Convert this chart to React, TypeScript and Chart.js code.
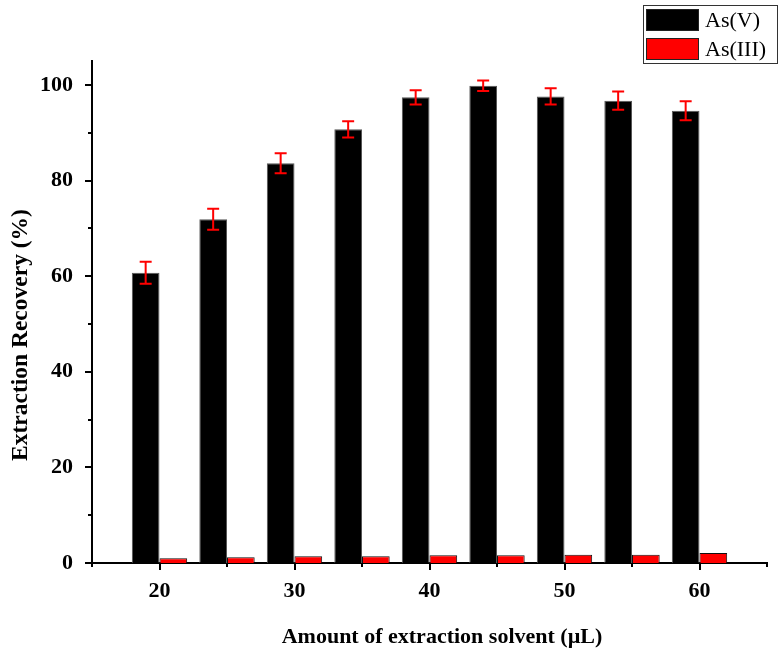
import React, { useEffect, useRef } from "react";
import { Chart, registerables } from "chart.js";

Chart.register(...registerables);

const solventAmounts = [20, 25, 30, 35, 40, 45, 50, 55, 60];
const asVRecovery = [60.7, 71.9, 83.6, 90.7, 97.4, 99.8, 97.6, 96.7, 94.6];
const asVError = [2.3, 2.2, 2.1, 1.7, 1.5, 1.1, 1.7, 1.9, 2.0];
const asIIIRecovery = [1.0, 1.2, 1.4, 1.4, 1.6, 1.6, 1.7, 1.7, 2.1];
const seriesLabels = ["As(V)", "As(III)"];
const xTickValues = [15, 20, 25, 30, 35, 40, 45, 50, 55, 60, 65];
const yTickValues = [0, 10, 20, 30, 40, 50, 60, 70, 80, 90, 100];
const xTitle = "Amount of extraction solvent (\u00b5L)";
const yTitle = "Extraction Recovery (%)";

const FONT = "'Liberation Serif', 'Times New Roman', serif";

const errorBarPlugin = {
  id: "errorBars",
  afterDatasetsDraw(chart: any) {
    const meta = chart.getDatasetMeta(0);
    const yScale = chart.scales.y;
    const ctx = chart.ctx;
    ctx.save();
    ctx.strokeStyle = "#ff0000";
    ctx.lineWidth = 2;
    meta.data.forEach((bar: any, i: number) => {
      const v = asVRecovery[i];
      const e = asVError[i];
      const yTop = yScale.getPixelForValue(v + e);
      const yBot = yScale.getPixelForValue(v - e);
      const x = bar.x;
      const cap = 6;
      ctx.beginPath();
      ctx.moveTo(x, yTop);
      ctx.lineTo(x, yBot);
      ctx.moveTo(x - cap, yTop);
      ctx.lineTo(x + cap, yTop);
      ctx.moveTo(x - cap, yBot);
      ctx.lineTo(x + cap, yBot);
      ctx.stroke();
    });
    ctx.restore();
  },
};

const ticksPlugin = {
  id: "customTicks",
  afterDraw(chart: any) {
    const ctx = chart.ctx;
    const { x, y } = chart.scales;
    const area = chart.chartArea;
    ctx.save();
    ctx.strokeStyle = "#000";
    ctx.lineWidth = 2;
    x.ticks.forEach((t: any) => {
      const px = Math.round(x.getPixelForValue(t.value));
      const len = t.value % 10 === 0 ? 7 : 4;
      ctx.beginPath();
      ctx.moveTo(px, area.bottom);
      ctx.lineTo(px, area.bottom + len);
      ctx.stroke();
    });
    y.ticks.forEach((t: any) => {
      const py = Math.round(y.getPixelForValue(t.value));
      const len = t.value % 20 === 0 ? 7 : 4;
      ctx.beginPath();
      ctx.moveTo(area.left, py);
      ctx.lineTo(area.left - len, py);
      ctx.stroke();
    });
    ctx.restore();
  },
};

const titlesPlugin = {
  id: "axisTitles",
  afterDraw(chart: any) {
    const ctx = chart.ctx;
    ctx.save();
    ctx.fillStyle = "#000";
    ctx.textAlign = "center";
    ctx.textBaseline = "alphabetic";
    ctx.font = `bold 22px ${FONT}`;
    ctx.fillText(xTitle, 442, 643);
    ctx.translate(27, 335);
    ctx.rotate(-Math.PI / 2);
    ctx.font = `bold 23.5px ${FONT}`;
    ctx.fillText(yTitle, 0, 0);
    ctx.restore();
  },
};

const legendPlugin = {
  id: "boxLegend",
  afterDraw(chart: any) {
    const ctx = chart.ctx;
    ctx.save();
    const bx = 643, by = 5, bw = 134, bh = 58;
    ctx.strokeStyle = "#333";
    ctx.lineWidth = 1;
    ctx.strokeRect(bx + 0.5, by + 0.5, bw, bh);
    const ds = chart.data.datasets;
    const rows = [20, 49];
    ds.forEach((d: any, i: number) => {
      const cy = rows[i];
      ctx.fillStyle = d.backgroundColor;
      ctx.fillRect(646, cy - 11, 53, 22);
      ctx.strokeStyle = "#222";
      ctx.strokeRect(646.5, cy - 10.5, 52, 21);
      ctx.fillStyle = "#000";
      ctx.font = `22px ${FONT}`;
      ctx.textBaseline = "middle";
      ctx.textAlign = "left";
      ctx.fillText(d.label, 705, cy + 1);
    });
    ctx.restore();
  },
};

export default function App() {
  const canvasRef = useRef<HTMLCanvasElement | null>(null);

  useEffect(() => {
    if (!canvasRef.current) return;
    const chart = new Chart(canvasRef.current, {
      type: "bar",
      data: {
        datasets: [
          {
            label: seriesLabels[0],
            data: solventAmounts.map((x, i) => ({ x, y: asVRecovery[i] })),
            backgroundColor: "#000000",
            borderColor: "#555555",
            borderWidth: 1,
          },
          {
            label: seriesLabels[1],
            data: solventAmounts.map((x, i) => ({ x, y: asIIIRecovery[i] })),
            backgroundColor: "#ff0000",
            borderColor: "#111111",
            borderWidth: 1,
          },
        ],
      },
      options: {
        animation: false,
        responsive: false,
        maintainAspectRatio: false,
        layout: { padding: { top: 61, right: 14, left: 0, bottom: 0 } },
        datasets: {
          bar: { categoryPercentage: 0.82, barPercentage: 1.0 },
        },
        plugins: {
          legend: { display: false },
          tooltip: { enabled: false },
        },
        scales: {
          x: {
            type: "linear",
            min: 15,
            max: 65,
            offset: false,
            afterBuildTicks: (scale: any) => {
              scale.ticks = xTickValues.map((value) => ({ value }));
            },
            afterFit: (scale: any) => {
              scale.height = 87;
            },
            ticks: {
              autoSkip: false,
              maxRotation: 0,
              padding: 15,
              color: "#000",
              font: { family: FONT, size: 22, weight: "bold" },
              callback: (v: any) => (Number(v) % 10 === 0 ? String(v) : ""),
            },
            grid: { display: false, drawTicks: false },
            border: { display: true, color: "#000", width: 2 },
            title: { display: false },
          },
          y: {
            min: 0,
            max: 105,
            afterBuildTicks: (scale: any) => {
              scale.ticks = yTickValues.map((value) => ({ value }));
            },
            afterFit: (scale: any) => {
              scale.width = 92;
            },
            ticks: {
              autoSkip: false,
              padding: 19,
              color: "#000",
              font: { family: FONT, size: 22, weight: "bold" },
              callback: (v: any) => (Number(v) % 20 === 0 ? String(v) : ""),
            },
            grid: { display: false, drawTicks: false },
            border: { display: true, color: "#000", width: 2 },
            title: { display: false },
          },
        },
      } as any,
      plugins: [errorBarPlugin, ticksPlugin, titlesPlugin, legendPlugin],
    });
    return () => chart.destroy();
  }, []);

  return (
    <div style={{ position: "fixed", left: 0, top: 0, width: 782, height: 650, background: "#fff" }}>
      <canvas ref={canvasRef} width={782} height={650} style={{ width: 782, height: 650, display: "block" }} />
    </div>
  );
}
